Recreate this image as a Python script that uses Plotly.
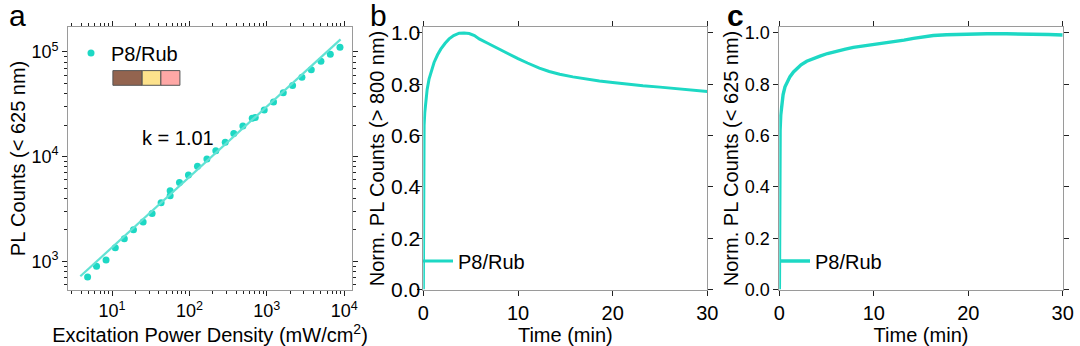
import plotly.graph_objects as go
from plotly.subplots import make_subplots

# panel a: power dependence (mW/cm2 vs PL counts)
power = [4.83, 6.3, 8.36, 11.0, 14.4, 18.9, 25.2, 32.9, 43, 56.3, 56.3, 74.3, 97, 127, 168,
         219, 290, 374, 490, 647, 708, 925, 1220, 1630, 2150, 2840, 3750, 5000, 6610, 8810]
counts = [710, 895, 1030, 1350, 1640, 2000, 2370, 2860, 3620, 4230, 4710, 5650, 6690, 8110, 9500,
          11400, 13700, 16600, 19600, 23200, 23700, 27900, 33200, 40700, 47900, 57400, 67400,
          81500, 95000, 111000]
fit_power = [3.89, 8970]
fit_counts = [720, 132000]

# panel b: > 800 nm
time_b = [0, 0.01, 0.03, 0.08, 0.15, 0.25, 0.4, 0.6, 0.85, 1.13, 1.5, 1.84, 2.3, 2.72, 3.2,
          3.78, 4.3, 4.84, 5.4, 5.9, 6.8, 7.84, 9, 10, 11, 12.26, 13.3, 14.4, 15.8, 17.2,
          18.6, 20, 21.5, 23.2, 25, 26.7, 28.4, 30]
norm_b = [0, 0.25, 0.55, 0.64, 0.69, 0.74, 0.78, 0.82, 0.855, 0.885, 0.915, 0.937, 0.96, 0.977,
          0.99, 0.999, 1.0, 0.998, 0.99, 0.977, 0.96, 0.94, 0.918, 0.90, 0.883, 0.863, 0.85,
          0.839, 0.829, 0.82, 0.813, 0.807, 0.80, 0.794, 0.789, 0.783, 0.778, 0.772]

# panel c: < 625 nm
time_c = [0, 0.01, 0.03, 0.08, 0.15, 0.25, 0.4, 0.6, 0.85, 1.13, 1.5, 1.84, 2.3, 2.9, 3.5,
          4.3, 5.1, 6.07, 7, 7.84, 9, 10, 11, 12.1, 13.2, 14.2, 15.3, 16.3, 17.7, 19.1, 20.5,
          22, 24, 25.5, 27, 28.5, 30]
norm_c = [0, 0.25, 0.52, 0.62, 0.68, 0.72, 0.76, 0.79, 0.81, 0.83, 0.848, 0.862, 0.876, 0.89,
          0.90, 0.91, 0.92, 0.93, 0.937, 0.944, 0.95, 0.953, 0.958, 0.966, 0.972, 0.979, 0.985,
          0.99, 0.993, 0.995, 0.997, 0.997, 0.997, 0.997, 0.996, 0.994, 0.992]

log_x_ticks = [10, 100, 1000, 10000]
log_x_text = ['10<sup>1</sup>', '10<sup>2</sup>', '10<sup>3</sup>', '10<sup>4</sup>']
log_y_ticks = [1000, 10000, 100000]
log_y_text = ['10<sup>3</sup>', '10<sup>4</sup>', '10<sup>5</sup>']

TEAL = '#1DD8C4'
FONT = 'Liberation Sans, Arial, sans-serif'

fig = make_subplots(rows=1, cols=3)

fig.add_trace(go.Scatter(x=power, y=counts, mode='markers', name='P8/Rub',
                         marker=dict(color=TEAL, size=7), legend='legend'),
              row=1, col=1)
fig.add_trace(go.Scatter(x=fit_power, y=fit_counts, mode='lines', showlegend=False,
                         line=dict(color='#62E2D4', width=2.2)),
              row=1, col=1)
fig.add_trace(go.Scatter(x=time_b, y=norm_b, mode='lines', name='P8/Rub',
                         line=dict(color=TEAL, width=3), legend='legend2'),
              row=1, col=2)
fig.add_trace(go.Scatter(x=time_c, y=norm_c, mode='lines', name='P8/Rub',
                         line=dict(color=TEAL, width=3.4), legend='legend3'),
              row=1, col=3)

ydom = [0.163, 0.921]
frame = dict(showline=True, linecolor='#9a9a9a', linewidth=1, mirror='ticks',
             ticks='outside', tickcolor='#222', ticklen=5, tickwidth=1,
             showgrid=False, zeroline=False, automargin=False,
             tickfont=dict(size=20, color='black'),
             title=dict(font=dict(size=20, color='black')))

minor_x = [m * 10 ** e for e in range(0, 4) for m in range(2, 10)]
minor_y = [m * 10 ** e for e in range(2, 5) for m in range(2, 10)]

fig.update_xaxes(frame, type='log', domain=[0.0630, 0.3259], range=[0.431, 4.10],
                 tickmode='array', tickvals=log_x_ticks, ticktext=log_x_text,
                 tickfont_size=18,
                 minor=dict(tickmode='array', tickvals=minor_x, ticks='outside',
                            ticklen=3, tickcolor='#222'),
                 title_text='Excitation Power Density (mW/cm<sup>2</sup>)', title_standoff=5,
                 row=1, col=1)
fig.update_yaxes(frame, type='log', domain=ydom, range=[2.73, 5.235],
                 tickmode='array', tickvals=log_y_ticks, ticktext=log_y_text,
                 tickfont_size=18,
                 minor=dict(tickmode='array', tickvals=minor_y, ticks='outside',
                            ticklen=3, tickcolor='#222'),
                 title_text='PL Counts (< 625 nm)', title_standoff=0,
                 row=1, col=1)

fig.update_xaxes(frame, domain=[0.3920, 0.6549], range=[0, 30], dtick=10,
                 title_text='Time (min)', title_standoff=3, row=1, col=2)
fig.update_yaxes(frame, domain=ydom, range=[0, 1.022], dtick=0.2, tickformat='.1f',
                 tickfont_size=21, ticklabelstandoff=-7,
                 title_text='Norm. PL Counts (> 800 nm)', title_standoff=0, row=1, col=2)
fig.update_xaxes(frame, domain=[0.7216, 0.9840], range=[0, 30], dtick=10,
                 title_text='Time (min)', title_standoff=3, row=1, col=3)
fig.update_yaxes(frame, domain=ydom, range=[0, 1.022], dtick=0.2, tickformat='.1f',
                 tickfont_size=18,
                 title_text='Norm. PL Counts (< 625 nm)', title_standoff=0, row=1, col=3)

# sample colour swatch under the legend in panel a
swatch = [('#93644F', 0.158, 0.261), ('#FDE28C', 0.261, 0.327), ('#FFA8A6', 0.327, 0.394)]
for col, x0, x1 in swatch:
    fig.add_shape(type='rect', xref='x domain', yref='y domain', x0=x0, x1=x1,
                  y0=0.779, y1=0.835, fillcolor=col, line=dict(color='#555', width=1))

fig.add_annotation(text='k = 1.01', xref='x domain', yref='y domain', x=0.389, y=0.578,
                   showarrow=False, font=dict(size=20, color='black'))

for lab, xp, bold in [('a', 17, False), ('b', 378, False), ('c', 735, True)]:
    fig.add_annotation(text='<b>%s</b>' % lab if bold else lab, xref='paper', yref='paper',
                       x=xp / 1080, y=1 - 16 / 346, xanchor='center', yanchor='middle',
                       showarrow=False, font=dict(size=30, color='black'))

leg = dict(bgcolor='rgba(0,0,0,0)', font=dict(size=20, color='black'),
           xanchor='left', yanchor='middle')
fig.update_layout(
    width=1080, height=346, margin=dict(l=0, r=0, t=0, b=0),
    paper_bgcolor='white', plot_bgcolor='white',
    font=dict(family=FONT, size=20, color='black'),
    legend=dict(leg, x=71 / 1080, y=1 - 53 / 346),
    legend2=dict(leg, x=418 / 1080, y=1 - 261 / 346),
    legend3=dict(leg, x=775 / 1080, y=1 - 261 / 346),
)

fig.write_html('out.html', config={'displayModeBar': False},
               post_script="document.body.style.margin='0';")
